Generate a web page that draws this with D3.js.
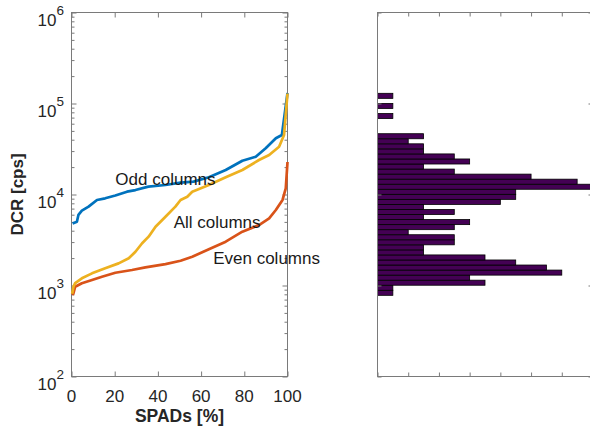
<!doctype html>
<head>
  <style>
    html, body {
      margin: 0;
      padding: 0;
      background: #fff;
    }
    svg text {
      font-family: "Liberation Sans", Arial, sans-serif;
      fill: #262626;
    }
    .tick line {
      stroke: #7a7a7a;
    }
    .frame {
      fill: none;
      stroke: #7a7a7a;
      stroke-width: 1px;
    }
    .curve {
      fill: none;
      stroke-width: 2.7px;
      stroke-linejoin: round;
    }
  </style>
  <script src="https://cdn.jsdelivr.net/npm/d3@7"></script>
</head>

<body>
  <svg id="chart" width="590" height="434"></svg>

  <script>
    // cumulative DCR curves, x = share of SPADs [%], y = DCR [cps]
    var oddPct = [0.5, 2.5, 3.2, 4.8, 7.9, 11.8, 15.6, 20.3, 25.7, 29.6, 35.6, 43.5, 50.5, 56.5, 63.6, 71.4, 79.1, 85.3, 89.9, 94.6, 97.4, 100];
    var oddDcr = [4800, 5020, 5960, 6640, 7350, 8710, 9080, 9750, 10740, 11190, 12190, 12710, 13490, 13840, 15490, 18580, 23500, 26000, 32210, 41500, 45080, 130300];

    var evenPct = [0.3, 0.9, 1.7, 4.8, 9.5, 14.1, 20.3, 28.0, 34.2, 43.5, 50.5, 55.9, 63.6, 71.4, 79.1, 86.8, 91.5, 94.6, 97.7, 99.2, 100];
    var evenDcr = [790, 820, 970, 1060, 1150, 1250, 1380, 1480, 1580, 1720, 1870, 2070, 2500, 3030, 3900, 4620, 5470, 6760, 8710, 11700, 22750];

    var allPct = [0.3, 0.9, 1.7, 4.8, 9.5, 15.6, 21.8, 26.5, 29.6, 32.7, 35.7, 38.9, 43.5, 48.1, 50.5, 53.6, 55.9, 63.6, 71.4, 79.1, 86.8, 91.5, 96.1, 98.4, 100];
    var allDcr = [810, 970, 1060, 1200, 1360, 1550, 1750, 1990, 2350, 2910, 3440, 4430, 5700, 7350, 8710, 9460, 10740, 12710, 15450, 18580, 23930, 27160, 33500, 45080, 128800];

    // histogram of log10(DCR), lowest bin first
    var histLogStart = 2.892;
    var histLogBin = 0.0555;
    var histCounts = [1, 1, 7, 6, 12, 11, 9, 7, 3, 3, 5, 5, 2, 5, 6, 3, 5, 3, 8, 9, 9, 14, 13, 10, 5, 3, 6, 5, 3, 3, 2, 3, 0, 0, 0, 1, 0, 1, 0, 1];

    var xTicks = [0, 20, 40, 60, 80, 100];
    var yExponents = [2, 3, 4, 5, 6];
    var histTicks = [0, 2, 4, 6, 8, 10, 12, 14];

    var curveLabels = [
      {text: 'Odd columns', pct: 20.3, dcr: 12700},
      {text: 'All columns', pct: 47.3, dcr: 4260},
      {text: 'Even columns', pct: 65.6, dcr: 1720}
    ];

    var svg = d3.select('#chart');

    var x = d3.scaleLinear().domain([0, 100]).range([71.5, 287.5]);
    var y = d3.scaleLog().domain([1e2, 1e6]).range([376.5, 12.5]);

    var xH = d3.scaleLinear().domain([0, 14]).range([377.5, 592.5]);
    var yH = d3.scaleLinear().domain([2, 6]).range([376.5, 12.5]);

    // ---- left panel ----
    var minorVals = [];
    yExponents.slice(0, -1).forEach(function(e) {
      for (var m = 2; m < 10; m++) minorVals.push(m * Math.pow(10, e));
    });
    var majorVals = yExponents.map(function(e) { return Math.pow(10, e); });

    function noDomain(g) { g.select('.domain').remove(); }

    svg.append('g').attr('transform', 'translate(71.5,0)')
        .call(d3.axisLeft(y).tickValues(minorVals).tickSizeInner(-3).tickSizeOuter(0).tickFormat(''))
        .call(noDomain);
    svg.append('g').attr('transform', 'translate(287.5,0)')
        .call(d3.axisRight(y).tickValues(minorVals).tickSizeInner(-3).tickSizeOuter(0).tickFormat(''))
        .call(noDomain);
    svg.append('g').attr('transform', 'translate(71.5,0)')
        .call(d3.axisLeft(y).tickValues(majorVals).tickSizeInner(-5).tickSizeOuter(0).tickFormat(''))
        .call(noDomain);
    svg.append('g').attr('transform', 'translate(287.5,0)')
        .call(d3.axisRight(y).tickValues(majorVals).tickSizeInner(-5).tickSizeOuter(0).tickFormat(''))
        .call(noDomain);
    svg.append('g').attr('transform', 'translate(0,376.5)')
        .call(d3.axisBottom(x).tickValues(xTicks).tickSizeInner(-5).tickSizeOuter(0).tickFormat(''))
        .call(noDomain);
    svg.append('g').attr('transform', 'translate(0,12.5)')
        .call(d3.axisTop(x).tickValues(xTicks).tickSizeInner(-5).tickSizeOuter(0).tickFormat(''))
        .call(noDomain);

    svg.append('rect').attr('class', 'frame')
        .attr('x', x(0)).attr('y', y(1e6))
        .attr('width', x(100) - x(0)).attr('height', y(1e2) - y(1e6));

    // y labels 10^n
    var yLab = svg.append('g').selectAll('text')
        .data(yExponents)
        .enter().append('text')
        .attr('text-anchor', 'end')
        .attr('x', 64)
        .attr('y', function(e) { return y(Math.pow(10, e)) + 13; })
        .style('font-size', '17px');
    yLab.append('tspan').text('10');
    yLab.append('tspan').attr('dy', -11).style('font-size', '13.5px')
        .text(function(e) { return e; });

    // x labels
    svg.append('g').selectAll('text')
        .data(xTicks)
        .enter().append('text')
        .attr('text-anchor', 'middle')
        .attr('x', function(d) { return x(d); })
        .attr('y', 401.5)
        .style('font-size', '17px')
        .text(function(d) { return d; });

    svg.append('text')
        .attr('text-anchor', 'middle')
        .attr('x', (x(0) + x(100)) / 2)
        .attr('y', 422)
        .style('font-size', '17.5px')
        .style('font-weight', 'bold')
        .text('SPADs [%]');

    svg.append('text')
        .attr('text-anchor', 'middle')
        .attr('transform', 'translate(23,' + (y(1e4)) + ') rotate(-90)')
        .style('font-size', '17px')
        .style('font-weight', 'bold')
        .text('DCR [cps]');

    // curves
    var line = d3.line()
        .x(function(d) { return x(d[0]); })
        .y(function(d) { return y(d[1]); });

    var curves = [
      {pts: d3.zip(oddPct, oddDcr), color: '#0072BD'},
      {pts: d3.zip(evenPct, evenDcr), color: '#D95319'},
      {pts: d3.zip(allPct, allDcr), color: '#EDB120'}
    ];
    svg.append('g').selectAll('path')
        .data(curves)
        .enter().append('path')
        .attr('class', 'curve')
        .attr('stroke', function(d) { return d.color; })
        .attr('d', function(d) { return line(d.pts); });

    svg.append('g').selectAll('text')
        .data(curveLabels)
        .enter().append('text')
        .attr('x', function(d) { return x(d.pct); })
        .attr('y', function(d) { return y(d.dcr); })
        .style('font-size', '17px')
        .style('fill', '#1a1a1a')
        .text(function(d) { return d.text; });

    // ---- histogram panel ----
    var bins = histCounts.map(function(c, i) {
      return {count: c, lo: histLogStart + i * histLogBin, hi: histLogStart + (i + 1) * histLogBin};
    }).filter(function(b) { return b.count > 0; });

    svg.append('g').selectAll('rect')
        .data(bins)
        .enter().append('rect')
        .attr('x', xH(0))
        .attr('y', function(b) { return yH(b.hi); })
        .attr('width', function(b) { return xH(b.count) - xH(0); })
        .attr('height', function(b) { return yH(b.lo) - yH(b.hi); })
        .attr('fill', '#440154')
        .attr('stroke', '#000')
        .attr('stroke-width', 0.8);

    svg.append('g').attr('transform', 'translate(0,376.5)')
        .call(d3.axisBottom(xH).tickValues(histTicks).tickSizeInner(-4).tickSizeOuter(0).tickFormat(''))
        .call(noDomain);
    svg.append('g').attr('transform', 'translate(0,12.5)')
        .call(d3.axisTop(xH).tickValues(histTicks).tickSizeInner(-4).tickSizeOuter(0).tickFormat(''))
        .call(noDomain);
    svg.append('g').attr('transform', 'translate(377.5,0)')
        .call(d3.axisLeft(yH).tickValues(yExponents).tickSizeInner(-4).tickSizeOuter(0).tickFormat(''))
        .call(noDomain);
    svg.append('g').attr('transform', 'translate(592.5,0)')
        .call(d3.axisRight(yH).tickValues(yExponents).tickSizeInner(-4).tickSizeOuter(0).tickFormat(''))
        .call(noDomain);

    svg.append('rect').attr('class', 'frame')
        .attr('x', xH(0)).attr('y', yH(6))
        .attr('width', xH(14) - xH(0)).attr('height', yH(2) - yH(6));
  </script>
</body>
